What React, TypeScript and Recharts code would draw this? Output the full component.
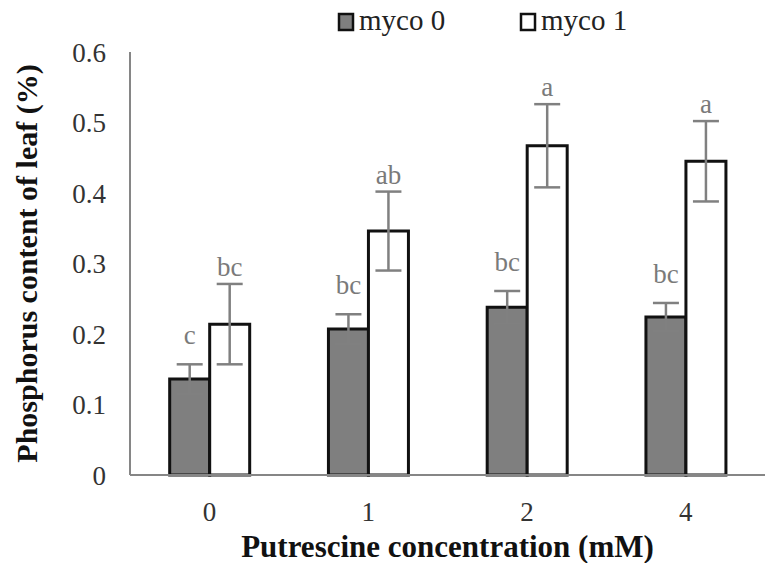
import React from 'react';
import { Bar, BarChart, ErrorBar, LabelList, XAxis, YAxis } from 'recharts';

const concentrations = ['0', '1', '2', '4'];
const myco0 = [0.136, 0.207, 0.238, 0.224];
const myco0Err = [0.021, 0.021, 0.023, 0.020];
const myco1 = [0.214, 0.346, 0.467, 0.445];
const myco1Err = [0.057, 0.056, 0.059, 0.057];
const myco0Letters = ['c', 'bc', 'bc', 'bc'];
const myco1Letters = ['bc', 'ab', 'a', 'a'];
const yTicks = [0, 0.1, 0.2, 0.3, 0.4, 0.5, 0.6];

const FONT = "'Liberation Serif', 'Times New Roman', serif";

const data = concentrations.map((c, i) => ({
    name: c,
    m0: myco0[i],
    e0: myco0Err[i],
    s0: myco0Letters[i],
    m1: myco1[i],
    e1: myco1Err[i],
    s1: myco1Letters[i],
}));

// letter sits above the top of the error bar
const letterContent = (valueKey: 'm0' | 'm1', errKey: 'e0' | 'e1', gap: number) => (props: any) => {
    const { x, y, width, height, value, index } = props;
    const row = data[index];
    if (!row) return null;
    const pxPerUnit = height / row[valueKey];
    const errTop = y - row[errKey] * pxPerUnit;
    return (
        <text
            x={x + width / 2}
            y={errTop - gap}
            textAnchor="middle"
            fill="#7a7a7a"
            fontSize={27}
            fontFamily={FONT}
        >
            {value}
        </text>
    );
};

const legendItems = [
    { name: 'myco 0', fill: '#7f7f7f', left: 339 },
    { name: 'myco 1', fill: '#ffffff', left: 521 },
];

export default function App() {
    return (
        <div style={{ position: 'absolute', left: 0, top: 0, width: 765, height: 563, background: '#fff' }}>
            <svg width={765} height={44} style={{ position: 'absolute', left: 0, top: 0 }}>
                {legendItems.map((item) => (
                    <g key={item.name}>
                        <rect x={item.left} y={14} width={14} height={16} fill={item.fill} stroke="#111" strokeWidth={2.5} />
                        <text x={item.left + 20} y={30} fontSize={29} fontFamily={FONT} fill="#222">
                            {item.name}
                        </text>
                    </g>
                ))}
            </svg>
            <BarChart
                width={765}
                height={563}
                data={data}
                margin={{ top: 52, right: 0, bottom: 58, left: 0 }}
                barCategoryGap="25%"
                barGap={0}
            >
                <XAxis
                    dataKey="name"
                    axisLine={{ stroke: '#868686', strokeWidth: 2 }}
                    tickLine={false}
                    tickSize={0}
                    tickMargin={27}
                    height={30}
                    tick={{ fill: '#333', fontSize: 27, fontFamily: FONT }}
                    label={{
                        content: (p: any) => {
                            const vb = p.viewBox;
                            return (
                                <text
                                    x={vb.x + vb.width / 2}
                                    y={vb.y + 82}
                                    textAnchor="middle"
                                    fontSize={31}
                                    fontWeight="bold"
                                    fontFamily={FONT}
                                    fill="#111"
                                >
                                    Putrescine concentration (mM)
                                </text>
                            );
                        },
                    }}
                />
                <YAxis
                    width={130}
                    domain={[0, 0.6]}
                    ticks={yTicks}
                    interval={0}
                    axisLine={{ stroke: '#868686', strokeWidth: 2 }}
                    tickLine={false}
                    tickSize={0}
                    tickMargin={24}
                    tickFormatter={(v: number) => (v === 0 ? '0' : v.toFixed(1))}
                    tick={{ fill: '#333', fontSize: 27, fontFamily: FONT }}
                    label={{
                        content: (p: any) => {
                            const vb = p.viewBox;
                            const cx = 37;
                            const cy = vb.y + vb.height / 2;
                            return (
                                <text
                                    x={cx}
                                    y={cy}
                                    transform={`rotate(-90, ${cx}, ${cy})`}
                                    textAnchor="middle"
                                    fontSize={30}
                                    fontWeight="bold"
                                    fontFamily={FONT}
                                    fill="#111"
                                >
                                    Phosphorus content of leaf (%)
                                </text>
                            );
                        },
                    }}
                />
                <Bar dataKey="m0" name="myco 0" fill="#7f7f7f" stroke="#111" strokeWidth={3} isAnimationActive={false}>
                    <ErrorBar dataKey="e0" width={13} stroke="#808080" strokeWidth={2.5} direction="y" />
                    <LabelList dataKey="s0" content={letterContent('m0', 'e0', 20)} />
                </Bar>
                <Bar dataKey="m1" name="myco 1" fill="#ffffff" stroke="#111" strokeWidth={3} isAnimationActive={false}>
                    <ErrorBar dataKey="e1" width={13} stroke="#808080" strokeWidth={2.5} direction="y" />
                    <LabelList dataKey="s1" content={letterContent('m1', 'e1', 8)} />
                </Bar>
            </BarChart>
        </div>
    );
}
